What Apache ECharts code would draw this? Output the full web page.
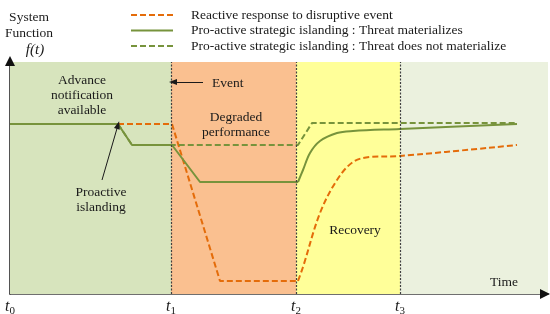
<!DOCTYPE html>
<html>
<head>
<meta charset="utf-8">
<script src="https://cdn.jsdelivr.net/npm/echarts@6/dist/echarts.min.js"></script>
<style>html,body{margin:0;padding:0;background:#fff}#c{width:550px;height:314px}</style>
</head>
<body>
<div id="c"></div>
<script>
// ---- data (x: time units, y: system function units) ----
const seriesNames = [
  'Reactive response to disruptive event',
  'Pro-active strategic islanding : Threat materializes',
  'Pro-active strategic islanding : Threat does not materialize'
];
const tickValues = [0, 161, 286, 390];
const tickSubscripts = ['0', '1', '2', '3'];
const phaseBounds = [0, 161, 286, 390, 538];
const yTop = 232;

const reactiveDrop = [[108,170],[162,170],[210,13],[288,13]];
const reactiveRecovery = [[288,13],[293,27],[310,81],[327,114],[343,132],[360,137],[390,138],[507,149]];
const materializesDrop = [[0,170],[108,170],[122,149],[162,149],[190,112],[288,112]];
const materializesRecovery = [[288,112],[293,124],[300,141],[310,153],[327,161],[343,163],[390,165],[507,170]];
const notMaterialize = [[108,170],[122,149],[288,149],[302,171],[507,171]];

const eventArrow = [[193,212],[163,212]];
const islandingArrow = [[92,114],[108,169]];

// ---- styles ----
const ORANGE = '#E46C0A', GREEN = '#77933C';
const FONT = 'Liberation Serif';
const bandColors = ['#D7E4BD', '#FAC090', '#FFFF99', '#EBF1DE'];

const chart = echarts.init(document.getElementById('c'), null, {renderer: 'canvas'});

const bands = [];
for (let i = 0; i < phaseBounds.length - 1; i++) {
  bands.push([{xAxis: phaseBounds[i], yAxis: 0, itemStyle: {color: bandColors[i]}},
              {xAxis: phaseBounds[i + 1], yAxis: yTop}]);
}

const txt = (text, x, y, extra) => ({
  type: 'text', x: x, y: y, z: 100,
  style: Object.assign({text: text, font: '13.5px "' + FONT + '"', fill: '#1a1a1a',
    align: 'center', verticalAlign: 'middle', lineHeight: 15}, extra || {})
});

chart.setOption({
  animation: false,
  grid: {left: 10, right: 2, top: 62, bottom: 20, containLabel: false, outerBoundsMode: 'none'},
  legend: {
    orient: 'vertical', left: 130, top: 8, padding: 0, itemWidth: 42, itemHeight: 14, itemGap: 1.5,
    data: seriesNames,
    itemStyle: {opacity: 0},
    textStyle: {fontFamily: FONT, fontSize: 13.5, color: '#1a1a1a', padding: [0, 0, 0, 13]}
  },
  xAxis: {
    type: 'value', min: 0, max: 538,
    splitLine: {show: false},
    axisTick: {show: false},
    axisLine: {show: true, lineStyle: {color: '#404040', width: 1.5}},
    axisLabel: {
      show: true, customValues: tickValues, margin: 5,
      formatter: function (v) {
        const i = tickValues.indexOf(v);
        return '{t|t}{s|' + tickSubscripts[i] + '}';
      },
      rich: {
        t: {fontFamily: FONT, fontStyle: 'italic', fontSize: 16, color: '#1a1a1a', verticalAlign: 'top', lineHeight: 14},
        s: {fontFamily: FONT, fontSize: 11, color: '#1a1a1a', verticalAlign: 'bottom', lineHeight: 18}
      }
    }
  },
  yAxis: {
    type: 'value', min: 0, max: yTop,
    splitLine: {show: false}, axisTick: {show: false}, axisLabel: {show: false},
    axisLine: {show: true, lineStyle: {color: '#1a1a1a', width: 1.5}}
  },
  graphic: [
    {type: 'polygon', z: 100, shape: {points: [[10, 56], [5, 66], [15, 66]]}, style: {fill: '#111'}},
    {type: 'polygon', z: 100, shape: {points: [[550, 294], [540, 289], [540, 299]]}, style: {fill: '#111'}},
    txt('System', 29, 17),
    txt('Function', 29, 33),
    txt('f(t)', 35, 50, {font: 'italic 15px "' + FONT + '"'}),
    txt('Advance\nnotification\navailable', 82, 95),
    txt('Event', 212, 83, {align: 'left'}),
    txt('Degraded\nperformance', 236, 125),
    txt('Proactive\nislanding', 101, 200),
    txt('Recovery', 355, 230),
    txt('Time', 504, 282)
  ],
  series: [
    {
      name: seriesNames[0], type: 'line', data: reactiveDrop, symbol: 'none', z: 2,
      lineStyle: {color: ORANGE, width: 2, type: [6, 3]}, itemStyle: {color: ORANGE},
      markArea: {silent: true, data: bands},
      markLine: {
        silent: true, symbol: 'none', label: {show: false},
        lineStyle: {color: '#404040', width: 1.2, type: [2, 1.5]},
        data: tickValues.slice(1).map(v => ({xAxis: v}))
      }
    },
    {
      name: seriesNames[0], type: 'line', data: reactiveRecovery, symbol: 'none', z: 2,
      smooth: 0.35,
      lineStyle: {color: ORANGE, width: 2, type: [6, 3]}, itemStyle: {color: ORANGE},
      markLine: {
        silent: true, label: {show: false}, symbolSize: [6, 8],
        lineStyle: {color: '#1a1a1a', width: 1, type: 'solid'},
        data: [
          [{coord: eventArrow[0], symbol: 'none'}, {coord: eventArrow[1], symbol: 'triangle'}],
          [{coord: islandingArrow[0], symbol: 'none'}, {coord: islandingArrow[1], symbol: 'triangle'}]
        ]
      }
    },
    {
      name: seriesNames[2], type: 'line', data: notMaterialize, symbol: 'none', z: 3,
      lineStyle: {color: GREEN, width: 2, type: [6, 3]}, itemStyle: {color: GREEN}
    },
    {
      name: seriesNames[1], type: 'line', data: materializesDrop, symbol: 'none', z: 4,
      lineStyle: {color: GREEN, width: 2}, itemStyle: {color: GREEN}
    },
    {
      name: seriesNames[1], type: 'line', data: materializesRecovery, symbol: 'none', z: 4,
      smooth: 0.35,
      lineStyle: {color: GREEN, width: 2}, itemStyle: {color: GREEN}
    }
  ]
});
</script>
</body>
</html>
